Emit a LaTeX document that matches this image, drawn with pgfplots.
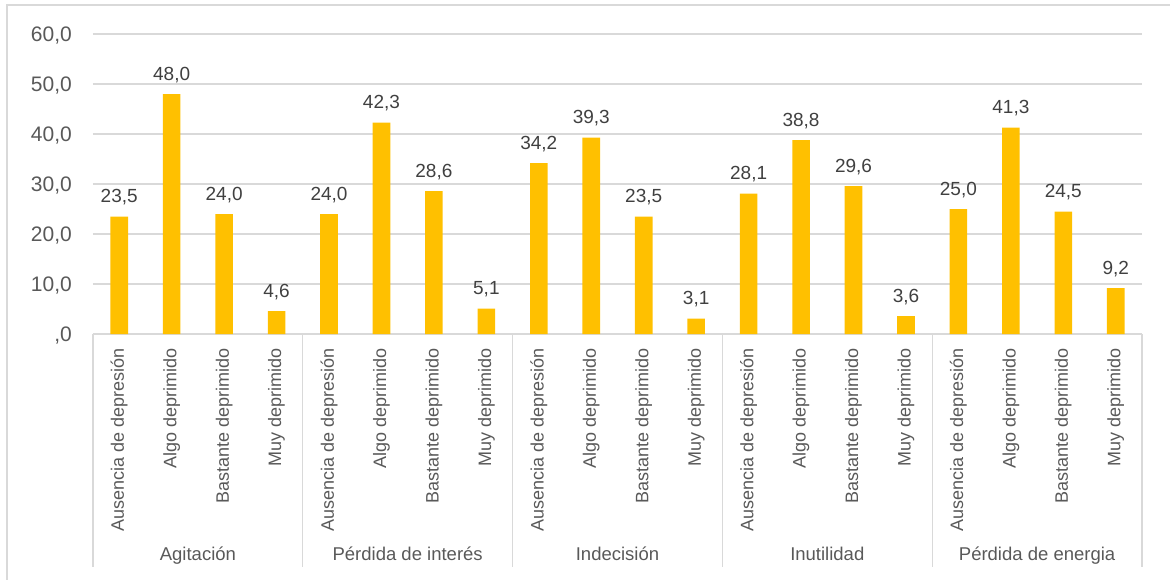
\documentclass[border=0pt]{standalone}
\usepackage{pgfplots}
\pgfplotsset{compat=1.18}
\usepackage{fontspec}
\setmainfont{Liberation Sans}
\definecolor{barc}{HTML}{FFC000}
\definecolor{gridc}{HTML}{D9D9D9}
\definecolor{txt}{HTML}{595959}
\definecolor{lab}{HTML}{404040}
\begin{document}
\begin{tikzpicture}[x=1pt,y=1pt]
\draw[gridc, line width=1.5pt] (-86,-260) -- (-86,329) -- (1090,329);
\begin{axis}[
  at={(0,0)}, anchor=south west,
  scale only axis, width=1049pt, height=300pt,
  xmin=-0.5, xmax=19.5, ymin=0, ymax=60,
  clip=false,
  axis line style={draw=none},
  major tick length=0pt,
  ymajorgrids, grid style={gridc, line width=1.3pt},
  ytick={0,10,...,60},
  yticklabels={{,0},{10,0},{20,0},{30,0},{40,0},{50,0},{60,0}},
  y tick label style={anchor=base east, inner sep=0pt, xshift=-21pt, yshift=-7pt,
     font=\fontsize{21}{23}\selectfont, text=txt},
  xtick={0,...,19},
  xticklabels={Ausencia de depresión, Algo deprimido, Bastante deprimido, Muy deprimido,
               Ausencia de depresión, Algo deprimido, Bastante deprimido, Muy deprimido,
               Ausencia de depresión, Algo deprimido, Bastante deprimido, Muy deprimido,
               Ausencia de depresión, Algo deprimido, Bastante deprimido, Muy deprimido,
               Ausencia de depresión, Algo deprimido, Bastante deprimido, Muy deprimido},
  xticklabel shift=14pt,
  x tick label style={rotate=90, anchor=east, inner sep=0pt,
     font=\fontsize{18}{20}\selectfont, text=txt},
  ybar, bar width=0.335,
  nodes near coords={\pgfmathprintnumber[fixed,fixed zerofill,precision=1,use comma,assume math mode=true]{\pgfplotspointmeta}},
  nodes near coords style={anchor=base, inner sep=0pt, yshift=14pt,
     font=\fontsize{19}{21}\selectfont, text=lab},
]
\addplot[draw=none, fill=barc] coordinates {
 (0,23.5) (1,48.0) (2,24.0) (3,4.6)
 (4,24.0) (5,42.3) (6,28.6) (7,5.1)
 (8,34.2) (9,39.3) (10,23.5) (11,3.1)
 (12,28.1) (13,38.8) (14,29.6) (15,3.6)
 (16,25.0) (17,41.3) (18,24.5) (19,9.2)
};
\pgfplotsinvokeforeach{-0.5,3.5,7.5,11.5,15.5,19.5}{
  \draw[gridc, line width=1.3pt] (axis cs:#1,0) -- ([yshift=-233pt]axis cs:#1,0);
}
\begin{scope}[every node/.style={anchor=base, font=\fontsize{18.5}{20}\selectfont, text=txt}]
\node at (axis cs:1.5,0) [yshift=-226pt] {Agitación};
\node at (axis cs:5.5,0) [yshift=-226pt] {Pérdida de interés};
\node at (axis cs:9.5,0) [yshift=-226pt] {Indecisión};
\node at (axis cs:13.5,0) [yshift=-226pt] {Inutilidad};
\node at (axis cs:17.5,0) [yshift=-226pt] {Pérdida de energia};
\end{scope}
\end{axis}
\pgfresetboundingbox
\useasboundingbox (-93pt,-245pt) rectangle (1077pt,334pt);
\end{tikzpicture}
\end{document}
